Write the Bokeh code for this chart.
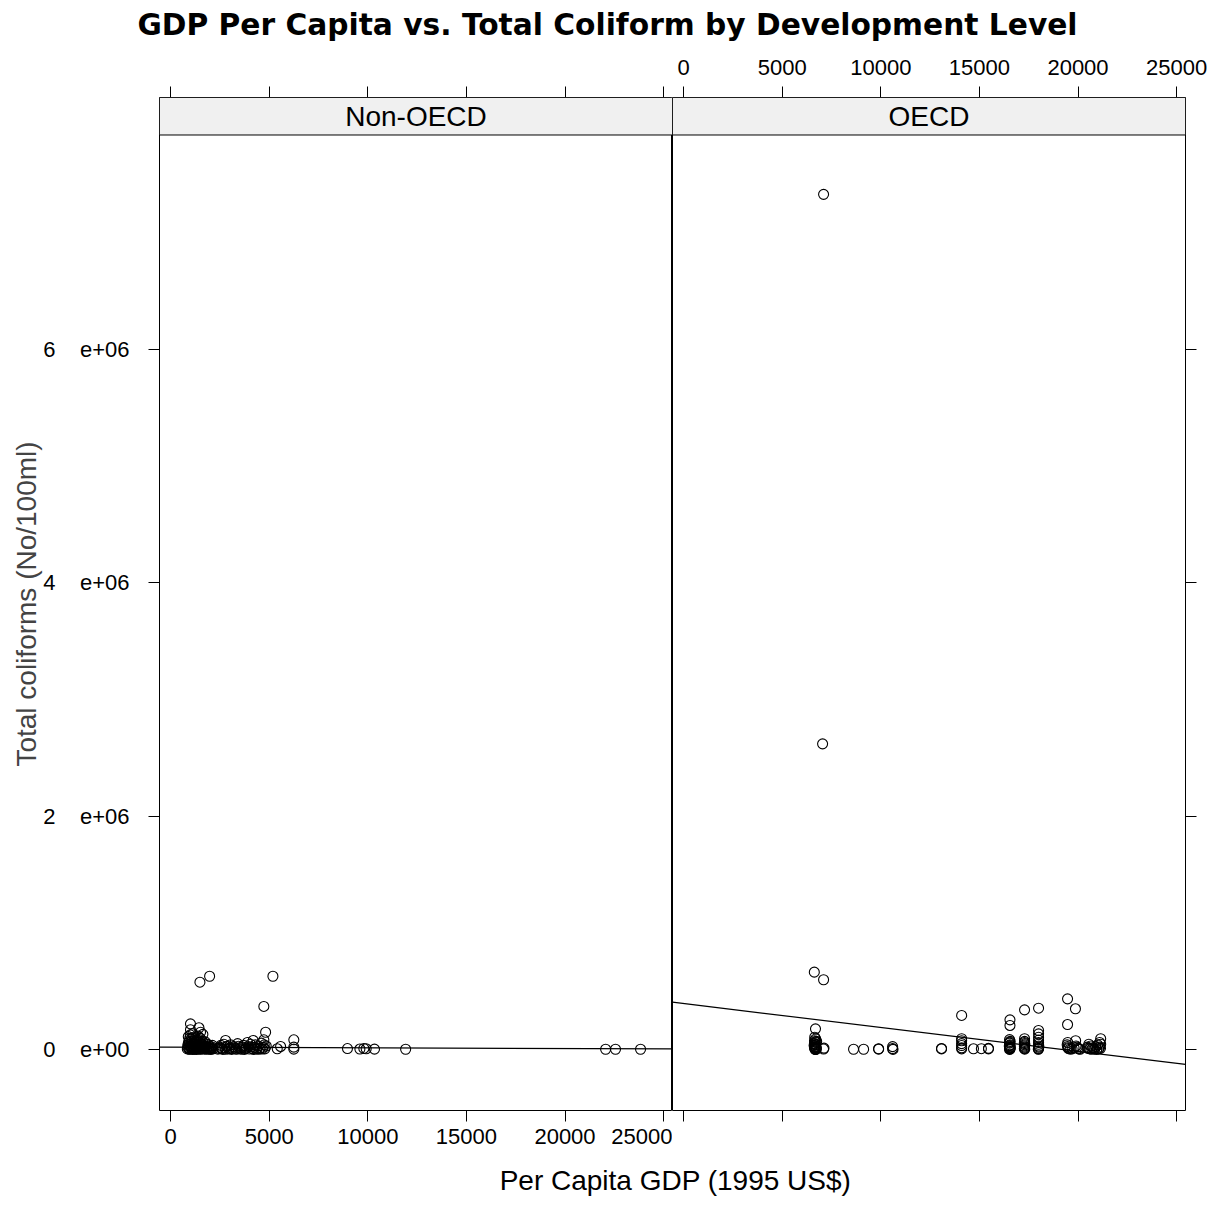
from bokeh.plotting import figure
from bokeh.layouts import column, row
from bokeh.models import (Range1d, LinearAxis, FixedTicker, BoxAnnotation, Label,
                          ColumnDataSource)
from bokeh.embed import file_html
from bokeh.resources import INLINE

# ---------------- data ----------------
panels = ["Non-OECD", "OECD"]

nonoecd_gdp = [
    1490, 1980, 5190, 4730, 4820, 4730, 1010, 1440, 1010, 1520, 2790, 4190,
    5410, 5580, 6250, 6250, 6250, 8970, 9600, 9800, 9920, 10340, 11920,
    22060, 22560, 23830,
    850, 880, 900, 920, 950, 980, 1000, 1020, 1050, 1080, 1100, 1130, 1150,
    1180, 1200, 1230, 1260, 1290, 1320, 1350, 1380, 1400, 1430, 1460, 1500,
    1530, 1560, 1600, 1640, 1680, 1720, 1760, 1800, 1850, 1900, 1950, 2000,
    2050, 2100, 2150,
    870, 910, 940, 970, 990, 1030, 1060, 1090, 1110, 1140, 1170, 1190, 1220,
    1250, 1280, 1310, 1340, 1370, 1410, 1450, 1480, 1510, 1550, 1590, 1620,
    1660, 1700, 1740, 1780, 1820, 1870, 1920, 1970, 2020, 2080, 2120,
    2400, 2500, 2600, 2700, 2800, 2900, 3000, 3100, 3200, 3300, 3400, 3500,
    3600, 3700, 3800, 3900, 4000, 4100, 4200, 4300, 4400, 4500, 4600, 4700,
    4780, 4850,
    2450, 2550, 2650, 2750, 2850, 2950, 3050, 3150, 3250, 3350, 3450, 3550,
    3650, 3750, 3850, 3950, 4050, 4150, 4250, 4350, 4450, 4550, 4650, 4750,
]
nonoecd_coliform = [
    577000, 628000, 628000, 369000, 148000, 83000, 220000, 186000, 169000,
    148000, 77000, 77000, 6000, 26000, 83000, 20000, 3000, 8000, 4000, 9000,
    6000, 3000, 2000, 2000, 2000, 2000,
    5000, 40000, 110000, 15000, 70000, 2000, 125000, 30000, 90000, 8000,
    55000, 135000, 20000, 3000, 75000, 45000, 100000, 12000, 1000, 60000,
    25000, 115000, 6000, 85000, 35000, 2000, 50000, 10000, 130000, 18000,
    4000, 65000, 28000, 8000, 42000, 3000, 15000, 1000, 22000, 5000,
    20000, 60000, 3000, 95000, 25000, 50000, 12000, 75000, 1000, 40000,
    105000, 15000, 60000, 2000, 30000, 85000, 9000, 45000, 20000, 65000,
    4000, 95000, 25000, 40000, 70000, 6000, 32000, 15000, 48000, 2000,
    20000, 10000, 30000, 6000, 12000, 35000,
    3000, 20000, 8000, 45000, 2000, 30000, 12000, 1000, 25000, 6000, 50000,
    15000, 2000, 35000, 9000, 60000, 4000, 22000, 1000, 40000, 10000, 3000,
    55000, 18000, 5000, 30000,
    10000, 35000, 1000, 15000, 25000, 5000, 40000, 8000, 15000, 2000, 28000,
    7000, 20000, 1000, 12000, 25000, 45000, 7000, 18000, 2000, 30000, 12000,
    4000, 40000,
]

oecd_gdp = [
    7100, 7050, 6630, 7100,
    6690, 6650, 6700, 6640, 6720, 6660, 6700, 6680, 6650, 6720, 6690, 6660,
    6700, 6680, 6720, 7100, 6750, 6620,
    6670, 6690, 6710, 6650, 6730, 6670, 6640, 6700, 7120,
    8620, 9130,
    9890, 9890, 10600, 10600, 10620,
    13080, 13080,
    14100, 14100, 14100, 14100, 14100, 14100, 14100,
    14700, 15100, 15460, 15460,
    16550, 16550, 16530, 16560, 16530, 16550, 16520, 16560, 16540, 16550, 16530,
    16540, 16520, 16560, 16530, 16550,
    17290, 17290, 17290, 17300, 17280, 17290, 17300,
    17280, 17300, 17290, 17280,
    18000, 18000, 18000, 18000, 18000, 18010, 18000, 17990,
    18000, 18010, 17990, 18000,
    19470, 19870, 19470, 19450, 19500, 19600, 19880, 19900, 20000, 20100, 19480,
    19470, 19520, 19700, 19800, 19950, 20050,
    20480, 20600, 20750, 20850, 21000, 21100, 21140, 21150, 20550, 20950,
    20500, 20650, 20800, 20900, 21050, 21100, 21150, 20700,
]
oecd_coliform = [
    7330000, 2620000, 663000, 598000,
    177000, 105000, 90000, 75000, 60000, 48000, 38000, 28000, 20000, 14000,
    9000, 5000, 3000, 1500, 800, 4000, 70000, 35000,
    65000, 42000, 24000, 12000, 7000, 2000, 52000, 17000, 12000,
    2000, 2000,
    3000, 6000, 25000, 8000, 1000,
    5000, 9000,
    292000, 92000, 75000, 34000, 5000, 50000, 15000,
    6000, 7000, 5000, 10000,
    254000, 206000, 85000, 70000, 55000, 40000, 28000, 18000, 10000, 4000, 1000,
    62000, 33000, 22000, 14000, 7000,
    340000, 92000, 70000, 50000, 30000, 12000, 3000,
    60000, 40000, 20000, 7000,
    354000, 163000, 134000, 105000, 60000, 30000, 10000, 2000,
    45000, 20000, 5000, 80000,
    434000, 349000, 214000, 40000, 15000, 3000, 75000, 30000, 10000, 2000, 60000,
    25000, 8000, 5000, 15000, 20000, 5000,
    20000, 5000, 15000, 3000, 40000, 60000, 10000, 92000, 45000, 1000,
    10000, 30000, 8000, 25000, 5000, 20000, 45000, 2000,
]

# least-squares lines as drawn in each panel (intercept, slope)
fit_intercept = [20000, 394000]
fit_slope = [-0.6, -20.5]

x_ticks = [0, 5000, 10000, 15000, 20000, 25000]
x_tick_labels = ["0", "5000", "10000", "15000", "20000", "25000"]
y_ticks = [0, 2000000, 4000000, 6000000]
y_tick_labels = ["0", "2", "4", "6"]
y_tick_exps = ["e+00", "e+06", "e+06", "e+06"]

title_text = "GDP Per Capita vs. Total Coliform by Development Level"
x_label = "Per Capita GDP (1995 US$)"
y_label = "Total coliforms (No/100ml)"

# ---------------- layout / style ----------------
FONT = "Liberation Sans"
X_LO, X_HI = -560, 25450
Y_LO, Y_HI = -522900, 8160000
STRIP_BOTTOM = 7838600
NB = "\u00a0"

empty_x = {t: "" for t in x_ticks}
empty_y = {t: "" for t in y_ticks}
x_over = {t: l for t, l in zip(x_ticks, x_tick_labels)}
y_over = {t: l + NB * 4 + e for t, l, e in zip(y_ticks, y_tick_labels, y_tick_exps)}


def axis(ticks, overrides, standoff):
    return LinearAxis(
        ticker=FixedTicker(ticks=ticks),
        major_label_overrides=overrides,
        major_tick_out=11, major_tick_in=0,
        minor_tick_out=0, minor_tick_in=0,
        major_tick_line_color="black", major_tick_line_width=1,
        axis_line_color=None,
        major_label_text_font=FONT, major_label_text_font_size="22px",
        major_label_text_color="black",
        major_label_standoff=standoff,
    )


def panel(idx, xs, ys, width, mb_left, mb_right):
    p = figure(width=width, height=1102,
               x_range=Range1d(X_LO, X_HI), y_range=Range1d(Y_LO, Y_HI),
               output_backend="svg", toolbar_location=None,
               x_axis_location=None, y_axis_location=None,
               min_border_left=mb_left, min_border_right=mb_right,
               min_border_top=47, min_border_bottom=42,
               outline_line_color="black", outline_line_width=1,
               background_fill_color="white", border_fill_color="white")
    p.xgrid.visible = False
    p.ygrid.visible = False
    src = ColumnDataSource(dict(x=xs, y=ys))
    p.scatter("x", "y", source=src, marker="circle", size=10,
              fill_color=None, line_color="black", line_width=1.1)
    lx = [X_LO, X_HI]
    ly = [fit_intercept[idx] + fit_slope[idx] * v for v in lx]
    p.line(lx, ly, line_color="black", line_width=1.2)
    p.add_layout(BoxAnnotation(bottom=STRIP_BOTTOM, fill_color="#f0f0f0",
                               fill_alpha=1, line_color="black", line_alpha=1,
                               line_width=1))
    p.add_layout(Label(x=(X_LO + X_HI) / 2, y=(STRIP_BOTTOM + Y_HI) / 2,
                       text=panels[idx], text_align="center",
                       text_baseline="middle", text_font=FONT,
                       text_font_size="28px", text_color="black"))
    return p


left = panel(0, nonoecd_gdp, nonoecd_coliform, 672, 159, 0)
yax = axis(y_ticks, y_over, 19)
yax.axis_label = y_label
yax.axis_label_text_font = FONT
yax.axis_label_text_font_size = "28px"
yax.axis_label_text_font_style = "normal"
yax.axis_label_standoff = -2
left.add_layout(yax, "left")
left.add_layout(axis(x_ticks, x_over, 7), "below")
left.add_layout(axis(x_ticks, empty_x, 10), "above")

right = panel(1, oecd_gdp, oecd_coliform, 536, 0, 23)
right.add_layout(axis(x_ticks, x_over, 12), "above")
right.add_layout(axis(x_ticks, empty_x, 7), "below")
right.add_layout(axis(y_ticks, empty_y, 10), "right")


def text_fig(width, height, text, x, y, size, font, style):
    f = figure(width=width, height=height, x_range=Range1d(0, 1),
               y_range=Range1d(0, 1), output_backend="svg",
               toolbar_location=None, x_axis_location=None,
               y_axis_location=None, min_border=0, outline_line_color=None,
               background_fill_color="white", border_fill_color="white")
    f.xgrid.visible = False
    f.ygrid.visible = False
    f.add_layout(Label(x=x, y=y, x_units="screen", y_units="screen",
                       text=text, text_align="center",
                       text_baseline="alphabetic", text_font=font,
                       text_font_size=size, text_font_style=style,
                       text_color="black"))
    return f


title_fig = text_fig(1208, 50, title_text, 607, 26, "29.7px", "DejaVu Sans", "bold")
xlab_fig = text_fig(1208, 52, x_label, 675, 24, "28px", FONT, "normal")

layout = column(title_fig, row(left, right), xlab_fig)

open("out.html", "w").write(file_html(layout, INLINE))
